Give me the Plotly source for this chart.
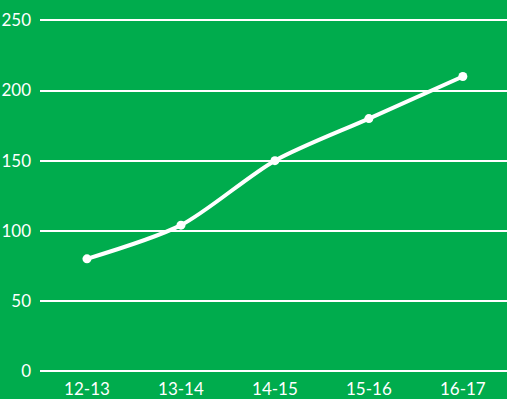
import plotly.graph_objects as go

categories = ["12-13", "13-14", "14-15", "15-16", "16-17"]
values = [80, 104, 150, 180, 210]
y_ticks = [0, 50, 100, 150, 200, 250]

bg = "#00AC4D"

fig = go.Figure(go.Scatter(
    x=categories, y=values, mode="lines+markers",
    line=dict(color="white", width=4, shape="spline", smoothing=0.8),
    marker=dict(color="white", size=9),
))
fig.update_layout(
    width=507, height=399,
    margin=dict(l=40, r=0, t=19, b=28),
    paper_bgcolor=bg, plot_bgcolor=bg,
    showlegend=False,
    font=dict(family="Lato, Open Sans, sans-serif", color="white", size=17),
)
fig.update_xaxes(type="category", range=[-0.5, 4.47], showgrid=False,
                 showline=False, zeroline=False, ticks="", ticklabelstandoff=6,
                 tickfont=dict(size=17, color="white"))
fig.update_yaxes(range=[0, 251], tickvals=y_ticks, showgrid=True,
                 gridcolor="white", gridwidth=1.5, zeroline=True,
                 zerolinecolor="white", zerolinewidth=1.5, showline=False,
                 ticks="", ticklabelstandoff=8,
                 tickfont=dict(size=17, color="white"))
fig.write_html("out.html")
